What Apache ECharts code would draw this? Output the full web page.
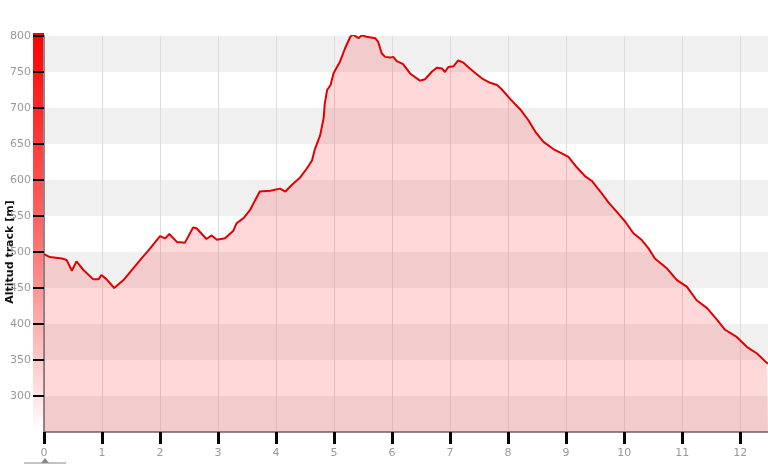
<!DOCTYPE html>
<html>
<head>
<meta charset="utf-8">
<script src="https://cdn.jsdelivr.net/npm/echarts@6/dist/echarts.min.js"></script>
<style>
  html, body { margin: 0; padding: 0; background: #fff; }
  #chart { width: 768px; height: 467px; }
</style>
</head>
<body>
<div id="chart"></div>
<script>
// distance along the track [km]
var distKm = [
  0, 0.10, 0.31, 0.39, 0.48, 0.56, 0.68, 0.85, 0.94, 0.99,
  1.08, 1.21, 1.37, 1.66, 1.83, 2.00, 2.09, 2.16, 2.29, 2.43,
  2.57, 2.63, 2.80, 2.89, 2.98, 3.12, 3.26, 3.32, 3.44, 3.55,
  3.64, 3.72, 3.90, 4.07, 4.16, 4.27, 4.41, 4.53, 4.62, 4.67,
  4.76, 4.82, 4.84, 4.88, 4.94, 4.99, 5.05, 5.10, 5.19, 5.28,
  5.33, 5.42, 5.48, 5.56, 5.71, 5.76, 5.82, 5.88, 5.97, 6.02,
  6.08, 6.19, 6.31, 6.48, 6.57, 6.68, 6.77, 6.86, 6.91, 6.97,
  7.06, 7.14, 7.23, 7.34, 7.46, 7.57, 7.69, 7.81, 7.89, 8.03,
  8.21, 8.35, 8.47, 8.61, 8.78, 8.90, 9.04, 9.18, 9.33, 9.44,
  9.59, 9.73, 9.87, 10.02, 10.16, 10.30, 10.42, 10.53, 10.74, 10.91,
  11.08, 11.25, 11.43, 11.60, 11.74, 11.94, 12.12, 12.29, 12.46, 12.48
];
// altitude [m]
var altitude = [
  497, 493, 491, 489, 474, 487, 475, 462, 462, 468,
  462, 450, 461, 489, 505, 522, 519, 525, 514, 513,
  534, 533, 518, 523, 517, 519, 529, 540, 547, 558,
  572, 584, 585, 588, 584, 593, 603, 616, 627, 643,
  662, 686, 706, 725, 732, 748, 757, 764, 783, 799,
  802, 797, 801, 799, 797, 792, 776, 771, 770, 771,
  765, 761, 748, 738, 740, 750, 756, 755, 750, 757,
  758, 766, 763, 755, 747, 740, 735, 732, 726, 713,
  698, 683, 667, 653, 643, 638, 632, 618, 605, 599,
  584, 569, 556, 542, 526, 517, 505, 491, 477, 461,
  452, 433, 422, 406, 392, 382, 368, 359, 346, 345
];
var xTicks = [0, 1, 2, 3, 4, 5, 6, 7, 8, 9, 10, 11, 12];
var yTitle = 'Altitud track [m]';

var chart = echarts.init(document.getElementById('chart'));
var track = distKm.map(function (d, i) { return [d, altitude[i]]; });

chart.setOption({
  animation: false,
  grid: { left: 44, right: 0, top: 36, bottom: 35 },
  xAxis: {
    type: 'value',
    min: 0,
    max: 12.48,
    interval: 1,
    axisLine: { show: true, lineStyle: { color: '#8a8a8a', width: 2 } },
    axisTick: { show: true, length: 12, customValues: xTicks, lineStyle: { color: '#000', width: 3 } },
    axisLabel: { customValues: xTicks, margin: 16, color: '#999', fontFamily: 'DejaVu Sans', fontSize: 11 },
    splitLine: { show: true, lineStyle: { color: '#dcdcdc', width: 1 } }
  },
  yAxis: {
    type: 'value',
    min: 250,
    max: 800,
    interval: 50,
    axisLine: { show: true, lineStyle: { color: '#8a8a8a', width: 2 } },
    axisTick: { show: true, length: 11, lineStyle: { color: '#000', width: 2 } },
    axisLabel: { showMinLabel: false, margin: 13, color: '#999', fontFamily: 'DejaVu Sans', fontSize: 11 },
    splitLine: { show: false },
    splitArea: { show: true, areaStyle: { color: ['#f0f0f0', '#ffffff'] } }
  },
  graphic: [
    {
      type: 'rect', z: -1,
      shape: { x: 33, y: 33, width: 11, height: 399 },
      style: {
        fill: new echarts.graphic.LinearGradient(0, 0, 0, 1, [
          { offset: 0, color: '#ff0000' },
          { offset: 0.5, color: '#ff6a6a' },
          { offset: 1, color: '#ffffff' }
        ])
      }
    },
    {
      type: 'text', x: 10, y: 252, rotation: Math.PI / 2,
      style: {
        text: yTitle, fill: '#111', font: 'bold 11px "DejaVu Sans"',
        align: 'center', verticalAlign: 'middle'
      }
    },
    {
      type: 'polygon',
      shape: { points: [[45, 232], [53, 235], [45, 238]] },
      style: { fill: '#3c8a2e' }
    },
    {
      type: 'line',
      shape: { x1: 24, y1: 463, x2: 66, y2: 463 },
      style: { stroke: '#888', lineWidth: 1 }
    },
    {
      type: 'polygon',
      shape: { points: [[41, 463], [45, 458], [49, 463]] },
      style: { fill: '#888' }
    }
  ],
  series: [{
    type: 'line',
    data: track,
    showSymbol: false,
    smooth: false,
    lineStyle: { color: '#e00000', width: 2 },
    areaStyle: { color: 'rgba(255,0,0,0.21)', origin: 'start' }
  }]
});
</script>
</body>
</html>
